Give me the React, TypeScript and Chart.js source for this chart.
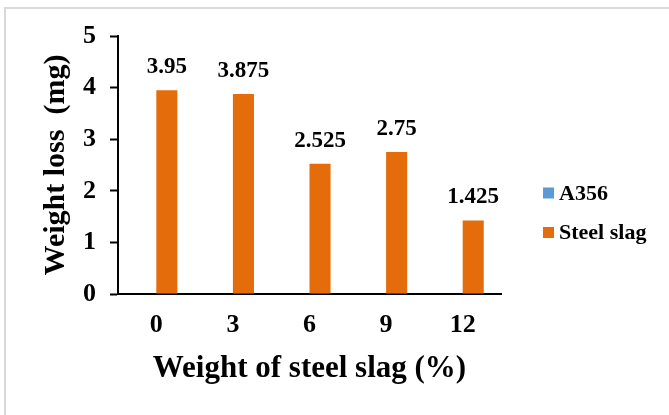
import React, { useEffect, useRef } from "react";
import { Chart, registerables } from "chart.js";

Chart.register(...registerables);

// ---- data ----
const categories = ["0", "3", "6", "9", "12"];
const a356Values: (number | null)[] = [null, null, null, null, null];
const steelSlagValues: number[] = [3.95, 3.875, 2.525, 2.75, 1.425];
const yTicks = [0, 1, 2, 3, 4, 5];
const seriesLabels = ["A356", "Steel slag"];
const seriesColors = ["#5B9BD5", "#E46C0A"];
const yTitle = "Weight loss  (mg)";
const xTitle = "Weight of steel slag (%)";

const FONT = "'Liberation Serif', 'Times New Roman', serif";

const framePlugin = {
  id: "frame",
  beforeDraw(chart: any) {
    const ctx = chart.ctx;
    ctx.save();
    ctx.fillStyle = "#FFFFFF";
    ctx.fillRect(0, 0, chart.width, chart.height);
    ctx.fillStyle = "#D9D9D9";
    ctx.fillRect(4, 7, 2, chart.height - 7);
    ctx.fillRect(4, 7, chart.width - 4, 2);
    ctx.restore();
  },
};

const dataLabelPlugin = {
  id: "dataLabels",
  afterDatasetsDraw(chart: any) {
    const ctx = chart.ctx;
    ctx.save();
    ctx.font = `bold 23px ${FONT}`;
    ctx.fillStyle = "#000000";
    ctx.textAlign = "center";
    ctx.textBaseline = "middle";
    chart.data.datasets.forEach((ds: any, di: number) => {
      const meta = chart.getDatasetMeta(di);
      meta.data.forEach((el: any, i: number) => {
        const v = ds.data[i];
        if (v === null || v === undefined) return;
        ctx.fillText(String(v), el.x, el.y - 23);
      });
    });
    ctx.restore();
  },
};

const sideLegendPlugin = {
  id: "sideLegend",
  afterDraw(chart: any) {
    const ctx = chart.ctx;
    const area = chart.chartArea;
    ctx.save();
    ctx.font = `bold 22px ${FONT}`;
    ctx.textAlign = "left";
    ctx.textBaseline = "middle";
    chart.data.datasets.forEach((ds: any, i: number) => {
      const cy = area.top + 157 + i * 39.5;
      const sx = area.right + 42;
      ctx.fillStyle = ds.backgroundColor;
      ctx.fillRect(sx, cy - 5.5, 11, 11);
      ctx.fillStyle = "#000000";
      ctx.fillText(ds.label, sx + 16, cy + 1);
    });
    ctx.restore();
  },
};

export default function App() {
  const canvasRef = useRef<HTMLCanvasElement | null>(null);

  useEffect(() => {
    if (!canvasRef.current) return;
    const chart = new Chart(canvasRef.current, {
      type: "bar",
      data: {
        labels: categories,
        datasets: [
          {
            label: seriesLabels[0],
            data: a356Values,
            backgroundColor: seriesColors[0],
            borderWidth: 0,
          },
          {
            label: seriesLabels[1],
            data: steelSlagValues,
            backgroundColor: seriesColors[1],
            borderWidth: 0,
          },
        ],
      },
      options: {
        animation: false,
        responsive: false,
        devicePixelRatio: 1,
        layout: { padding: { left: 0, top: 36, right: 168, bottom: 0 } },
        datasets: {
          bar: { categoryPercentage: 0.55, barPercentage: 1.0 },
        },
        plugins: {
          legend: { display: false },
          tooltip: { enabled: false },
          title: { display: false },
        },
        scales: {
          x: {
            grid: { display: false, drawTicks: false },
            border: { display: true, color: "#000000", width: 2 },
            ticks: {
              color: "#000000",
              padding: 16,
              font: { family: FONT, size: 26, weight: "bold" },
            },
            title: {
              display: true,
              text: xTitle,
              color: "#000000",
              font: { family: FONT, size: 31, weight: "bold" },
              padding: { top: 0, bottom: 27 },
            },
            afterFit(scale: any) {
              scale.height = 121;
            },
          },
          y: {
            min: yTicks[0],
            max: yTicks[yTicks.length - 1],
            grid: {
              display: true,
              drawOnChartArea: false,
              drawTicks: true,
              tickLength: 8,
              tickColor: "#000000",
              tickWidth: 2,
            },
            border: { display: true, color: "#000000", width: 2 },
            ticks: {
              stepSize: yTicks[1] - yTicks[0],
              color: "#000000",
              padding: 14,
              font: { family: FONT, size: 26, weight: "bold" },
            },
            title: {
              display: true,
              text: yTitle,
              color: "#000000",
              font: { family: FONT, size: 30, weight: "bold" },
              padding: { top: 38, bottom: 0 },
            },
            afterFit(scale: any) {
              scale.width = 118;
            },
          },
        },
      },
      plugins: [framePlugin, dataLabelPlugin, sideLegendPlugin],
    } as any);
    return () => chart.destroy();
  }, []);

  return (
    <div style={{ position: "fixed", left: 0, top: 0, width: 669, height: 415, background: "#fff" }}>
      <canvas ref={canvasRef} width={669} height={415} style={{ display: "block", width: 669, height: 415 }} />
    </div>
  );
}
